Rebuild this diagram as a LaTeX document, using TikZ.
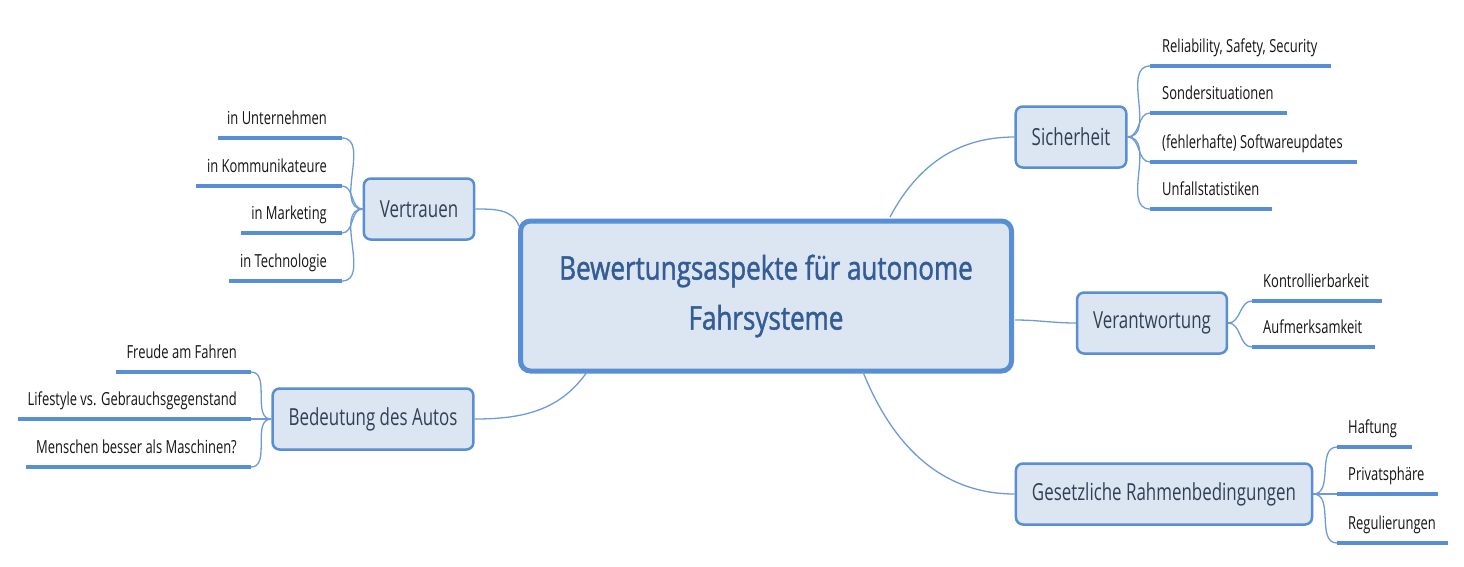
\documentclass[tikz,border=0pt]{standalone}
\usepackage{fontspec}
\setmainfont{Open Sans}[FakeStretch=0.72]
\newfontfamily\titlefont{Open Sans}[FakeStretch=0.8, FakeBold=1.4]
\usetikzlibrary{positioning}
\definecolor{boxfill}{RGB}{220,230,242}
\definecolor{boxline}{RGB}{88,142,212}
\definecolor{linkblue}{RGB}{110,155,215}
\definecolor{titletext}{RGB}{52,92,150}
\definecolor{topictext}{RGB}{50,64,86}
\definecolor{leaftxt}{RGB}{20,20,20}
\tikzset{
    mainbox/.style={rectangle, rounded corners=10pt, draw=boxline, line width=5pt, fill=boxfill, minimum width=491pt, minimum height=150pt, align=center, text=titletext, font=\titlefont\fontsize{32.5}{50}\selectfont},
    topic/.style={rectangle, rounded corners=7pt, draw=boxline, line width=2.5pt, fill=boxfill, minimum height=61pt, inner xsep=16pt, text=topictext, font=\fontsize{23.5}{28}\selectfont},
    leafR/.style={anchor=base west, inner sep=0pt, text=leaftxt, font=\fontsize{18}{22}\selectfont},
    leafL/.style={anchor=base east, inner sep=0pt, text=leaftxt, font=\fontsize{18}{22}\selectfont},
    leafline/.style={draw=boxline, line width=4pt},
    link/.style={draw=linkblue, line width=1.3pt}
}
\begin{document}
\begin{tikzpicture}[x=1pt, y=-1pt]
    \useasboundingbox (0,0) rectangle (1464,566);

    % Nodes
    \node[mainbox] (ctr) at (766,296) {Bewertungsaspekte für autonome\\Fahrsysteme};
    \node[topic] (sich) at (1071,137) {Sicherheit};
    \node[topic] (vera) at (1152,323) {Verantwortung};
    \node[topic] (gesr) at (1164,494) {Gesetzliche Rahmenbedingungen};
    \node[topic] (vert) at (419,209) {Vertrauen};
    \node[topic] (bede) at (373,419) {Bedeutung des Autos};

    % points on the main box
    \coordinate (cS) at (890,217);
    \coordinate (cV) at (519,226);
    \coordinate (cB) at (587,372);
    \coordinate (cR) at (1015,320);
    \coordinate (cG) at (863,372);

    % leaves: Sicherheit
    \node[leafR] (s1) at (1162,52) {Reliability, Safety, Security};
    \node[leafR] (s2) at (1162,99) {Sondersituationen};
    \node[leafR] (s3) at (1162,148) {(fehlerhafte) Softwareupdates};
    \node[leafR] (s4) at (1162,195) {Unfallstatistiken};
    \coordinate (s1a) at (1150,66);  \coordinate (s1b) at (1331,66);
    \coordinate (s2a) at (1150,113); \coordinate (s2b) at (1287,113);
    \coordinate (s3a) at (1150,162); \coordinate (s3b) at (1357,162);
    \coordinate (s4a) at (1150,209); \coordinate (s4b) at (1272,209);

    % leaves: Verantwortung
    \node[leafR] (r1) at (1263,287) {Kontrollierbarkeit};
    \node[leafR] (r2) at (1263,333) {Aufmerksamkeit};
    \coordinate (r1a) at (1252,301); \coordinate (r1b) at (1382,301);
    \coordinate (r2a) at (1252,347); \coordinate (r2b) at (1375,347);

    % leaves: Gesetzliche Rahmenbedingungen
    \node[leafR] (g1) at (1348,433) {Haftung};
    \node[leafR] (g2) at (1348,480) {Privatsphäre};
    \node[leafR] (g3) at (1348,529) {Regulierungen};
    \coordinate (g1a) at (1337,447); \coordinate (g1b) at (1412,447);
    \coordinate (g2a) at (1337,494); \coordinate (g2b) at (1438,494);
    \coordinate (g3a) at (1337,543); \coordinate (g3b) at (1448,543);

    % leaves: Vertrauen
    \node[leafL] (v1) at (327,124) {in Unternehmen};
    \node[leafL] (v2) at (327,172) {in Kommunikateure};
    \node[leafL] (v3) at (327,219) {in Marketing};
    \node[leafL] (v4) at (327,267) {in Technologie};
    \coordinate (v1a) at (218,138); \coordinate (v1b) at (342,138);
    \coordinate (v2a) at (196,186); \coordinate (v2b) at (342,186);
    \coordinate (v3a) at (241,233); \coordinate (v3b) at (342,233);
    \coordinate (v4a) at (229,281); \coordinate (v4b) at (342,281);

    % leaves: Bedeutung des Autos
    \node[leafL] (b1) at (237,358) {Freude am Fahren};
    \node[leafL] (b2) at (237,405) {Lifestyle vs. Gebrauchsgegenstand};
    \node[leafL] (b3) at (237,453) {Menschen besser als Maschinen?};
    \coordinate (b1a) at (116,372); \coordinate (b1b) at (251,372);
    \coordinate (b2a) at (18,419);  \coordinate (b2b) at (251,419);
    \coordinate (b3a) at (26,467);  \coordinate (b3b) at (251,467);

    % underlines
    \draw[leafline] (s1a) -- (s1b);
    \draw[leafline] (s2a) -- (s2b);
    \draw[leafline] (s3a) -- (s3b);
    \draw[leafline] (s4a) -- (s4b);
    \draw[leafline] (r1a) -- (r1b);
    \draw[leafline] (r2a) -- (r2b);
    \draw[leafline] (g1a) -- (g1b);
    \draw[leafline] (g2a) -- (g2b);
    \draw[leafline] (g3a) -- (g3b);
    \draw[leafline] (v1a) -- (v1b);
    \draw[leafline] (v2a) -- (v2b);
    \draw[leafline] (v3a) -- (v3b);
    \draw[leafline] (v4a) -- (v4b);
    \draw[leafline] (b1a) -- (b1b);
    \draw[leafline] (b2a) -- (b2b);
    \draw[leafline] (b3a) -- (b3b);

    % edges
    \draw[link] (cS) to[out=62, in=180] (sich.west);
    \draw[link] (cR) to[out=0, in=180] (vera.west);
    \draw[link] (cG) to[out=-68, in=180] (gesr.west);
    \draw[link] (vert.east) to[out=0, in=110] (cV);
    \draw[link] (bede.east) to[out=0, in=235] (cB);

    \draw[link] (sich.east) to[out=0, in=180] (s1a);
    \draw[link] (sich.east) to[out=0, in=180] (s2a);
    \draw[link] (sich.east) to[out=0, in=180] (s3a);
    \draw[link] (sich.east) to[out=0, in=180] (s4a);
    \draw[link] (vera.east) to[out=0, in=180] (r1a);
    \draw[link] (vera.east) to[out=0, in=180] (r2a);
    \draw[link] (gesr.east) to[out=0, in=180] (g1a);
    \draw[link] (gesr.east) to[out=0, in=180] (g2a);
    \draw[link] (gesr.east) to[out=0, in=180] (g3a);
    \draw[link] (vert.west) to[out=180, in=0] (v1b);
    \draw[link] (vert.west) to[out=180, in=0] (v2b);
    \draw[link] (vert.west) to[out=180, in=0] (v3b);
    \draw[link] (vert.west) to[out=180, in=0] (v4b);
    \draw[link] (bede.west) to[out=180, in=0] (b1b);
    \draw[link] (bede.west) to[out=180, in=0] (b2b);
    \draw[link] (bede.west) to[out=180, in=0] (b3b);
\end{tikzpicture}
\end{document}
